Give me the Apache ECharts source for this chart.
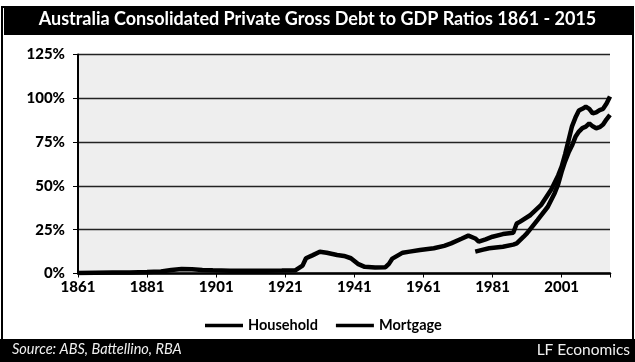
<!DOCTYPE html>
<html>
<head>
<meta charset="utf-8">
<script src="https://cdn.jsdelivr.net/npm/echarts@6/dist/echarts.min.js"></script>
<style>
  html, body { margin: 0; padding: 0; background: #ffffff; }
  #chart { width: 635px; height: 362px; }
</style>
</head>
<body>
<div id="chart"></div>
<script>
// Private gross debt to GDP, per cent, Australia
const householdYears = [1861, 1866, 1871, 1876, 1881, 1885, 1888, 1891, 1894, 1897, 1900, 1905, 1910, 1915, 1920, 1924, 1926, 1927, 1929, 1931, 1933, 1936, 1938, 1940, 1942, 1944, 1947, 1950, 1951, 1952, 1955, 1957, 1960, 1964, 1967, 1969, 1972, 1974, 1976, 1977, 1979, 1981, 1984, 1987, 1988, 1989, 1992, 1995, 1998, 2000, 2001, 2002, 2003, 2004, 2005, 2006, 2007, 2008, 2009, 2010, 2011, 2012, 2013, 2014, 2015];
const householdValues = [0.3, 0.4, 0.5, 0.6, 0.8, 1.2, 2.0, 2.6, 2.4, 2.0, 1.8, 1.6, 1.5, 1.6, 1.7, 1.9, 4.5, 8.7, 10.5, 12.4, 11.8, 10.6, 10.0, 8.7, 5.5, 3.8, 3.4, 3.6, 5.5, 8.5, 11.9, 12.5, 13.4, 14.4, 15.8, 17.2, 19.8, 21.6, 20.0, 18.2, 19.5, 21.0, 22.5, 23.3, 28.5, 29.6, 33.4, 39.0, 48.0, 56, 61, 68, 76, 84, 89, 93, 94, 95.2, 94, 91.4, 92, 93.3, 94, 97, 101];

const mortgageYears = [1976, 1978, 1980, 1984, 1987, 1988, 1990, 1991, 1994, 1997, 1999, 2000, 2001, 2002, 2003, 2004, 2005, 2006, 2007, 2008, 2009, 2010, 2011, 2012, 2013, 2014, 2015];
const mortgageValues = [12.5, 13.5, 14.4, 15.3, 16.5, 17.2, 21, 23, 30.5, 38.1, 46, 51, 58, 64, 69, 73, 78, 81, 83, 83.8, 85.7, 84, 82.9, 83.5, 85, 88, 90.5];

const seriesNames = ['Household', 'Mortgage'];
const titleText = 'Australia Consolidated Private Gross Debt to GDP Ratios 1861 - 2015';
const sourceText = 'Source: ABS, Battellino, RBA';
const creditText = 'LF Economics';

const firstYear = 1861, lastYear = 2015, yearStep = 20;
const pctMax = 125, pctStep = 25;

const pairs = (xs, ys) => xs.map((x, i) => [x, ys[i]]);
const FONT = 'Lato, "Open Sans", sans-serif';

const chart = echarts.init(document.getElementById('chart'), null, { renderer: 'canvas' });

chart.setOption({
  animation: false,
  backgroundColor: '#ffffff',
  graphic: [
    { type: 'rect', z: -10, shape: { x: 2, y: 7, width: 631, height: 355 },
      style: { fill: '#ffffff', stroke: '#000000', lineWidth: 2 } },
    { type: 'rect', z: 10, shape: { x: 4, y: 7, width: 628, height: 28 },
      style: { fill: '#000000' } },
    { type: 'rect', z: 10, shape: { x: 0, y: 339, width: 635, height: 23 },
      style: { fill: '#000000' } },
    { type: 'text', z: 11, left: 'center', top: 10,
      style: { text: titleText, fill: '#ffffff', font: 'bold 18px ' + FONT } },
    { type: 'text', z: 11, left: 12, top: 342,
      style: { text: sourceText, fill: '#f0f0f0', font: 'italic 14.5px ' + FONT } },
    { type: 'text', z: 11, right: 5, top: 342,
      style: { text: creditText, fill: '#f0f0f0', font: '15.5px ' + FONT } }
  ],
  grid: { left: 78, right: 25, top: 54.5, bottom: 88.5, show: true,
          backgroundColor: '#eeeeee', borderWidth: 0 },
  legend: {
    data: seriesNames,
    left: 200, top: 313,
    icon: 'rect', itemWidth: 38, itemHeight: 3.5, itemGap: 18,
    textStyle: { color: '#000000', fontFamily: FONT, fontWeight: 'bold', fontSize: 14.5 }
  },
  xAxis: {
    type: 'value', min: firstYear, max: lastYear, interval: yearStep,
    axisLine: { show: true, lineStyle: { color: '#000000', width: 2.5 } },
    axisTick: { show: true, length: 4, lineStyle: { color: '#000000' } },
    splitLine: { show: false },
    axisLabel: {
      color: '#000000', fontFamily: FONT, fontWeight: 900, fontSize: 15, margin: 6,
      formatter: v => ((v - firstYear) % yearStep === 0 ? String(v) : '')
    }
  },
  yAxis: {
    type: 'value', min: 0, max: pctMax, interval: pctStep,
    axisLine: { show: true, lineStyle: { color: '#000000', width: 2 } },
    axisTick: { show: true, length: 5, lineStyle: { color: '#000000' } },
    splitLine: { show: true, lineStyle: { color: '#222222', width: 1.3 } },
    axisLabel: { color: '#000000', fontFamily: FONT, fontWeight: 900, fontSize: 15,
                 margin: 13, formatter: '{value}%' }
  },
  series: [
    { name: seriesNames[0], type: 'line', data: pairs(householdYears, householdValues),
      showSymbol: false, color: '#000000', lineStyle: { width: 4.5, color: '#000000' } },
    { name: seriesNames[1], type: 'line', data: pairs(mortgageYears, mortgageValues),
      showSymbol: false, color: '#000000', lineStyle: { width: 4.5, color: '#000000' } }
  ]
});
</script>
</body>
</html>
